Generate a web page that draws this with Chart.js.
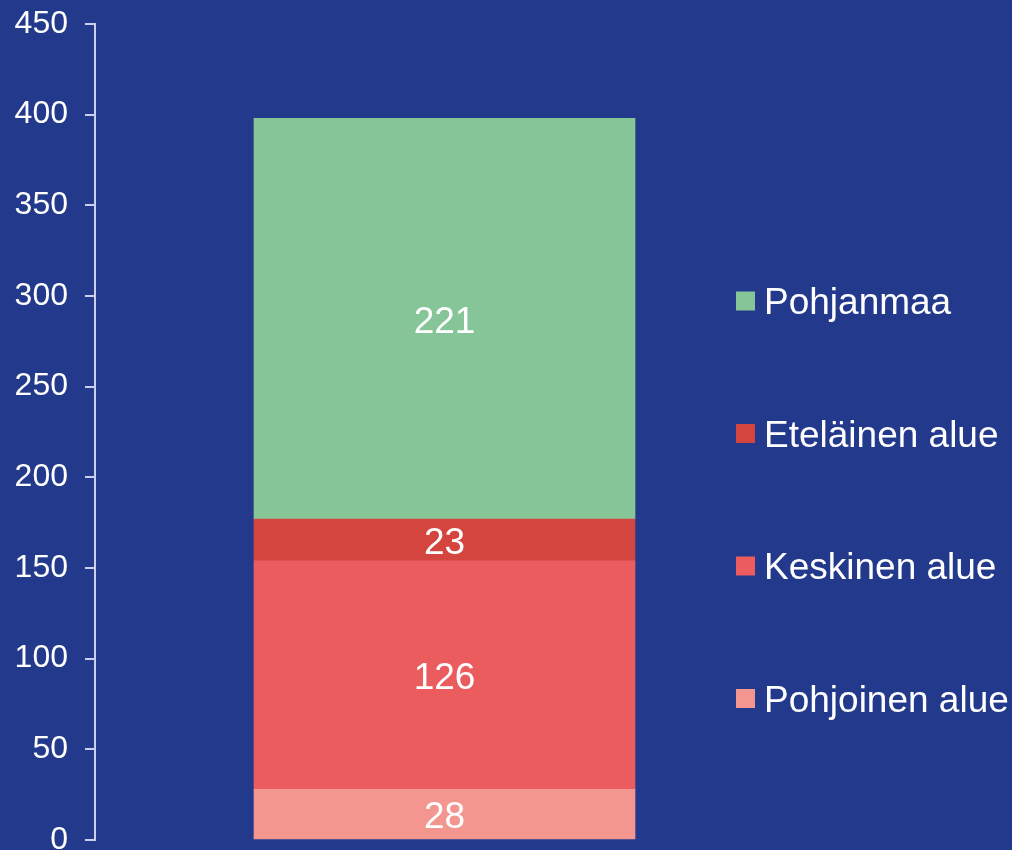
<!DOCTYPE html>
<html>
<head>
<meta charset="utf-8">
<script src="https://cdn.jsdelivr.net/npm/chart.js@4/dist/chart.umd.min.js"></script>
<style>
  html, body { margin: 0; padding: 0; background: #22398C; }
  #wrap { width: 1012px; height: 850px; position: relative; }
</style>
</head>
<body>
<div id="wrap"><canvas id="stacked"></canvas></div>
<script>
// data
const categories = [''];
const seriesNames = ['Pohjoinen alue', 'Keskinen alue', 'Eteläinen alue', 'Pohjanmaa'];
const pohjoinen = [28];
const keskinen = [126];
const etelainen = [23];
const pohjanmaa = [221];
const yMin = 0;
const yMax = 450;
const yStep = 50;

const colors = ['#F3968F', '#EB5C5F', '#D44540', '#86C598'];
const axisColor = '#C9D0EC';
const fontFamily = '"Liberation Sans", Arial, sans-serif';

// white numbers in the middle of each segment
const segmentLabels = {
  id: 'segmentLabels',
  afterDatasetsDraw(chart) {
    const ctx = chart.ctx;
    ctx.save();
    ctx.fillStyle = '#ffffff';
    ctx.font = '37px ' + fontFamily;
    ctx.textAlign = 'center';
    ctx.textBaseline = 'middle';
    chart.data.datasets.forEach((ds, i) => {
      chart.getDatasetMeta(i).data.forEach((bar, j) => {
        ctx.fillText(String(ds.data[j]), bar.x, (bar.y + bar.base) / 2 + 4);
      });
    });
    ctx.restore();
  }
};

// legend on the right, top item is the last series
const sideLegend = {
  id: 'sideLegend',
  afterDraw(chart) {
    const ctx = chart.ctx;
    const x = 736, y0 = 301, gap = 132.5, box = 19;
    ctx.save();
    ctx.font = '37px ' + fontFamily;
    ctx.textBaseline = 'middle';
    ctx.textAlign = 'left';
    const ds = chart.data.datasets.slice().reverse();
    ds.forEach((d, k) => {
      const y = y0 + k * gap;
      ctx.fillStyle = d.backgroundColor;
      ctx.fillRect(x, y - box / 2, box, box);
      ctx.fillStyle = '#ffffff';
      ctx.fillText(d.label, x + 28, y + 3);
    });
    ctx.restore();
  }
};

const ctx = document.getElementById('stacked');

const stacked = new Chart(ctx, {
  type: 'bar',
  data: {
    labels: categories,
    datasets: [
      { label: seriesNames[0], data: pohjoinen, backgroundColor: colors[0] },
      { label: seriesNames[1], data: keskinen, backgroundColor: colors[1] },
      { label: seriesNames[2], data: etelainen, backgroundColor: colors[2] },
      { label: seriesNames[3], data: pohjanmaa, backgroundColor: colors[3] }
    ]
  },
  options: {
    responsive: true,
    maintainAspectRatio: false,
    animation: false,
    layout: {
      padding: { top: 24, bottom: 10, left: 0, right: 218 }
    },
    datasets: {
      bar: { barThickness: 381, borderWidth: 0 }
    },
    plugins: {
      legend: { display: false },
      tooltip: { enabled: false }
    },
    scales: {
      x: {
        stacked: true,
        display: false
      },
      y: {
        stacked: true,
        min: yMin,
        max: yMax,
        ticks: {
          stepSize: yStep,
          color: '#ffffff',
          padding: 17,
          font: { family: fontFamily, size: 32 }
        },
        grid: {
          drawOnChartArea: false,
          drawTicks: true,
          tickLength: 10,
          color: axisColor,
          lineWidth: 2
        },
        border: { display: true, color: axisColor, width: 2 },
        afterFit(scale) {
          scale.width = 95;
          scale.paddingTop = 0;
          scale.paddingBottom = 0;
        }
      }
    }
  },
  plugins: [segmentLabels, sideLegend]
});
</script>
</body>
</html>
